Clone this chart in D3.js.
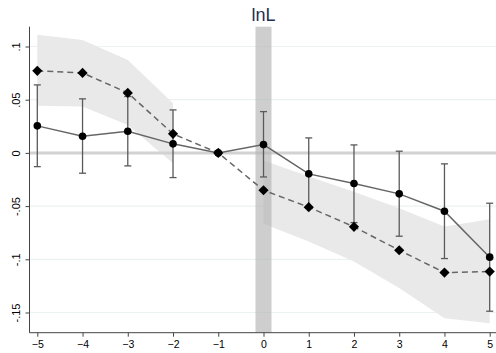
<!DOCTYPE html>
<html>
<head>
<meta charset="utf-8">
<script src="https://cdn.jsdelivr.net/npm/d3@7"></script>
<style>
  body { margin: 0; background: #fff; }
  svg { display: block; }
  text { font-family: "Liberation Sans", Arial, sans-serif; }
</style>
</head>
<body>
<div id="chart-area"></div>
<script>
// event time
var periods = [-5, -4, -3, -2, -1, 0, 1, 2, 3, 4, 5];

// solid series (circles) with error bars
var estimate = [0.0254, 0.0157, 0.0204, 0.0085, 0, 0.0078, -0.0197, -0.0288, -0.0385, -0.0548, -0.098];
var ciLow    = [-0.0129, -0.0191, -0.0122, -0.0232, 0, -0.0226, -0.052, -0.0655, -0.0783, -0.0993, -0.1488];
var ciHigh   = [0.0639, 0.0508, 0.053, 0.0404, 0, 0.0388, 0.0141, 0.0075, 0.0016, -0.0103, -0.0473];

// dashed series (diamonds) with shaded band
var estimate2 = [0.0771, 0.0752, 0.0564, 0.0179, 0, -0.0351, -0.051, -0.0695, -0.0915, -0.1125, -0.1115];
var bandLow   = [0.0442, 0.0435, 0.0263, -0.0097, null, -0.0667, -0.0833, -0.102, -0.127, -0.1554, -0.16];
var bandHigh  = [0.111, 0.106, 0.0874, 0.0467, null, -0.0072, -0.0222, -0.0364, -0.052, -0.0692, -0.0623];

// axis ticks
var yTicks = [0.1, 0.05, 0, -0.05, -0.1, -0.15];
var yTickLabels = [".1", ".05", "0", "-.05", "-.1", "-.15"];
var eventPeriod = 0;
var title = "lnL";

var width = 496, height = 353;
var plotLeft = 29.5, plotRight = 496, plotTop = 26.7, plotBottom = 332.7;

var svg = d3.select("#chart-area").append("svg")
    .attr("width", width)
    .attr("height", height);

var x = d3.scaleLinear().domain([-5, 5]).range([37.3, 489.7]);
var y = d3.scaleLinear().domain([-0.15, 0.1]).range([312.5, 46.5]);

// gridlines
svg.append("g").selectAll("line")
    .data(yTicks.filter(function(d) { return d !== 0; }))
    .enter().append("line")
        .attr("x1", plotLeft).attr("x2", plotRight)
        .attr("y1", function(d) { return y(d); })
        .attr("y2", function(d) { return y(d); })
        .attr("stroke", "#eaf2f2")
        .attr("stroke-width", 1.2);

// shaded band (broken at the reference period)
var bandData = periods.map(function(p, i) {
    return { p: p, lo: bandLow[i], hi: bandHigh[i] };
});
var area = d3.area()
    .defined(function(d) { return d.lo != null; })
    .x(function(d) { return x(d.p); })
    .y0(function(d) { return y(d.lo); })
    .y1(function(d) { return y(d.hi); });
svg.append("path")
    .datum(bandData)
    .attr("d", area)
    .attr("fill", "#e9e9e9");

// zero line
svg.append("line")
    .attr("x1", plotLeft).attr("x2", plotRight)
    .attr("y1", y(0)).attr("y2", y(0))
    .attr("stroke", "#d2d2d2")
    .attr("stroke-width", 3);

// event bar
svg.append("rect")
    .attr("x", x(eventPeriod) - 8)
    .attr("y", plotTop)
    .attr("width", 16)
    .attr("height", plotBottom - plotTop)
    .attr("fill", "#b4b4b4")
    .attr("opacity", 0.65);

// title
svg.append("text")
    .attr("x", x(eventPeriod))
    .attr("y", 20.5)
    .attr("text-anchor", "middle")
    .attr("font-size", "18px")
    .attr("fill", "#1e2f52")
    .text(title);

// error bars
var pts = periods.map(function(p, i) {
    return { p: p, est: estimate[i], lo: ciLow[i], hi: ciHigh[i], est2: estimate2[i] };
});
var eb = svg.append("g")
    .attr("stroke", "#5a5a5a")
    .attr("stroke-width", 1.3);
pts.filter(function(d) { return d.lo !== d.hi; }).forEach(function(d) {
    var cx = x(d.p);
    eb.append("line").attr("x1", cx).attr("x2", cx).attr("y1", y(d.lo)).attr("y2", y(d.hi));
    eb.append("line").attr("x1", cx - 3.5).attr("x2", cx + 3.5).attr("y1", y(d.lo)).attr("y2", y(d.lo));
    eb.append("line").attr("x1", cx - 3.5).attr("x2", cx + 3.5).attr("y1", y(d.hi)).attr("y2", y(d.hi));
});

// lines
svg.append("path")
    .datum(pts)
    .attr("d", d3.line().x(function(d) { return x(d.p); }).y(function(d) { return y(d.est2); }))
    .attr("fill", "none")
    .attr("stroke", "#666")
    .attr("stroke-width", 1.5)
    .attr("stroke-dasharray", "6,4");

svg.append("path")
    .datum(pts)
    .attr("d", d3.line().x(function(d) { return x(d.p); }).y(function(d) { return y(d.est); }))
    .attr("fill", "none")
    .attr("stroke", "#666")
    .attr("stroke-width", 1.5);

// markers
svg.append("g").selectAll("path")
    .data(pts).enter().append("path")
        .attr("d", d3.symbol().type(d3.symbolSquare).size(52))
        .attr("transform", function(d) { return "translate(" + x(d.p) + "," + y(d.est2) + ") rotate(45)"; })
        .attr("fill", "#000");

svg.append("g").selectAll("circle")
    .data(pts).enter().append("circle")
        .attr("cx", function(d) { return x(d.p); })
        .attr("cy", function(d) { return y(d.est); })
        .attr("r", 3.8)
        .attr("fill", "#000");

// y axis
var yAxis = svg.append("g")
    .attr("transform", "translate(" + plotLeft + ",0)")
    .call(d3.axisLeft(y).tickValues(yTicks).tickSize(4).tickPadding(0)
        .tickFormat(function(d, i) { return yTickLabels[i]; }));
yAxis.select(".domain").attr("d", "M0," + plotTop + "V" + plotBottom).attr("stroke", "#444");
yAxis.selectAll(".tick line").attr("stroke", "#444");
yAxis.selectAll(".tick text")
    .attr("x", -17)
    .attr("dy", 0)
    .attr("transform", function() { return ""; })
    .each(function(d) {
        d3.select(this)
            .attr("text-anchor", "middle")
            .attr("x", 0).attr("y", 0)
            .attr("transform", "translate(-13,0) rotate(-90)")
            .attr("dy", "0.35em");
    })
    .attr("font-size", "11px")
    .attr("fill", "#000");

// x axis
var xAxis = svg.append("g")
    .attr("transform", "translate(0," + plotBottom + ")")
    .call(d3.axisBottom(x).tickValues(periods).tickSize(4).tickPadding(4)
        .tickFormat(d3.format("d")));
xAxis.select(".domain").attr("d", "M" + plotLeft + ",0H" + plotRight).attr("stroke", "#444");
xAxis.selectAll(".tick line").attr("stroke", "#444");
xAxis.selectAll(".tick text").attr("font-size", "10.5px").attr("fill", "#000");
</script>
</body>
</html>
